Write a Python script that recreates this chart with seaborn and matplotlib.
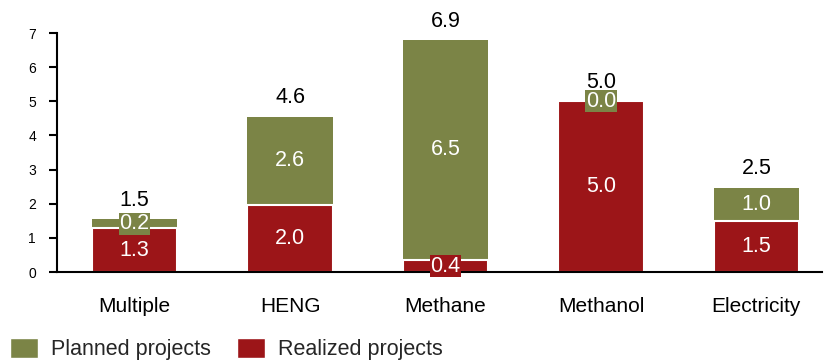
import matplotlib
matplotlib.use("Agg")
import matplotlib.pyplot as plt
import seaborn as sns
import pandas as pd
from matplotlib.patches import Patch

categories = ["Multiple", "HENG", "Methane", "Methanol", "Electricity"]
realized = [1.28, 1.97, 0.35, 5.0, 1.48]
planned = [0.27, 2.58, 6.45, 0.0, 0.99]
realized_labels = ["1.3", "2.0", "0.4", "5.0", "1.5"]
planned_labels = ["0.2", "2.6", "6.5", "0.0", "1.0"]
total_labels = ["1.5", "4.6", "6.9", "5.0", "2.5"]
y_ticks = [0, 1, 2, 3, 4, 5, 6, 7]

GREEN = "#7b8446"
RED = "#9c1518"

sns.set_theme(style="white")
plt.rcParams["font.family"] = ["Liberation Sans", "DejaVu Sans"]

df = pd.DataFrame({"cat": categories, "realized": realized, "planned": planned})
df["total"] = df["realized"] + df["planned"]

fig = plt.figure(figsize=(8.25, 3.61), dpi=100)
ax = fig.add_axes([0.069, 0.2465, 0.927, 0.662])

sns.barplot(data=df, x="cat", y="total", color=GREEN, saturation=1, width=0.55,
            ax=ax, linewidth=0)
sns.barplot(data=df, x="cat", y="realized", color=RED, saturation=1, width=0.55,
            ax=ax, edgecolor="white", linewidth=1.5)

FS = 15.5
for i in range(len(categories)):
    r = realized[i]
    p = planned[i]
    t = r + p
    ax.text(i, r / 2, realized_labels[i], ha="center", va="center", color="white",
            fontsize=FS, bbox=dict(boxstyle="square,pad=0.02", fc=RED, ec="none"))
    ax.text(i, r + p / 2, planned_labels[i], ha="center", va="center", color="white",
            fontsize=FS, bbox=dict(boxstyle="square,pad=0.02", fc=GREEN, ec="none"))
    ax.annotate(total_labels[i], (i, t), xytext=(0, 6), textcoords="offset points",
                ha="center", va="bottom", fontsize=FS, color="black")

ax.set_ylim(0, 7)
ax.set_xlim(-0.5, 4.42)
ax.set_yticks(y_ticks)
ax.set_yticklabels([str(v) for v in y_ticks], fontsize=10)
ax.set_xlabel("")
ax.set_ylabel("")
ax.tick_params(axis="x", length=0, labelsize=15, pad=18, colors="black")
ax.tick_params(axis="y", length=6, width=1.5, direction="out", left=True, colors="black", pad=9)
for s in ["top", "right"]:
    ax.spines[s].set_visible(False)
for s in ["left", "bottom"]:
    ax.spines[s].set_color("black")
    ax.spines[s].set_linewidth(1.5)

handles = [Patch(facecolor=GREEN, label="Planned projects"),
           Patch(facecolor=RED, label="Realized projects")]
fig.legend(handles=handles, loc="lower left", bbox_to_anchor=(-0.006, -0.04), ncol=2,
           frameon=False, fontsize=15.5, handlelength=1.3, handleheight=1.0,
           columnspacing=1.2, handletextpad=0.6, borderaxespad=0.3)

fig.savefig("out.png", dpi=100)
